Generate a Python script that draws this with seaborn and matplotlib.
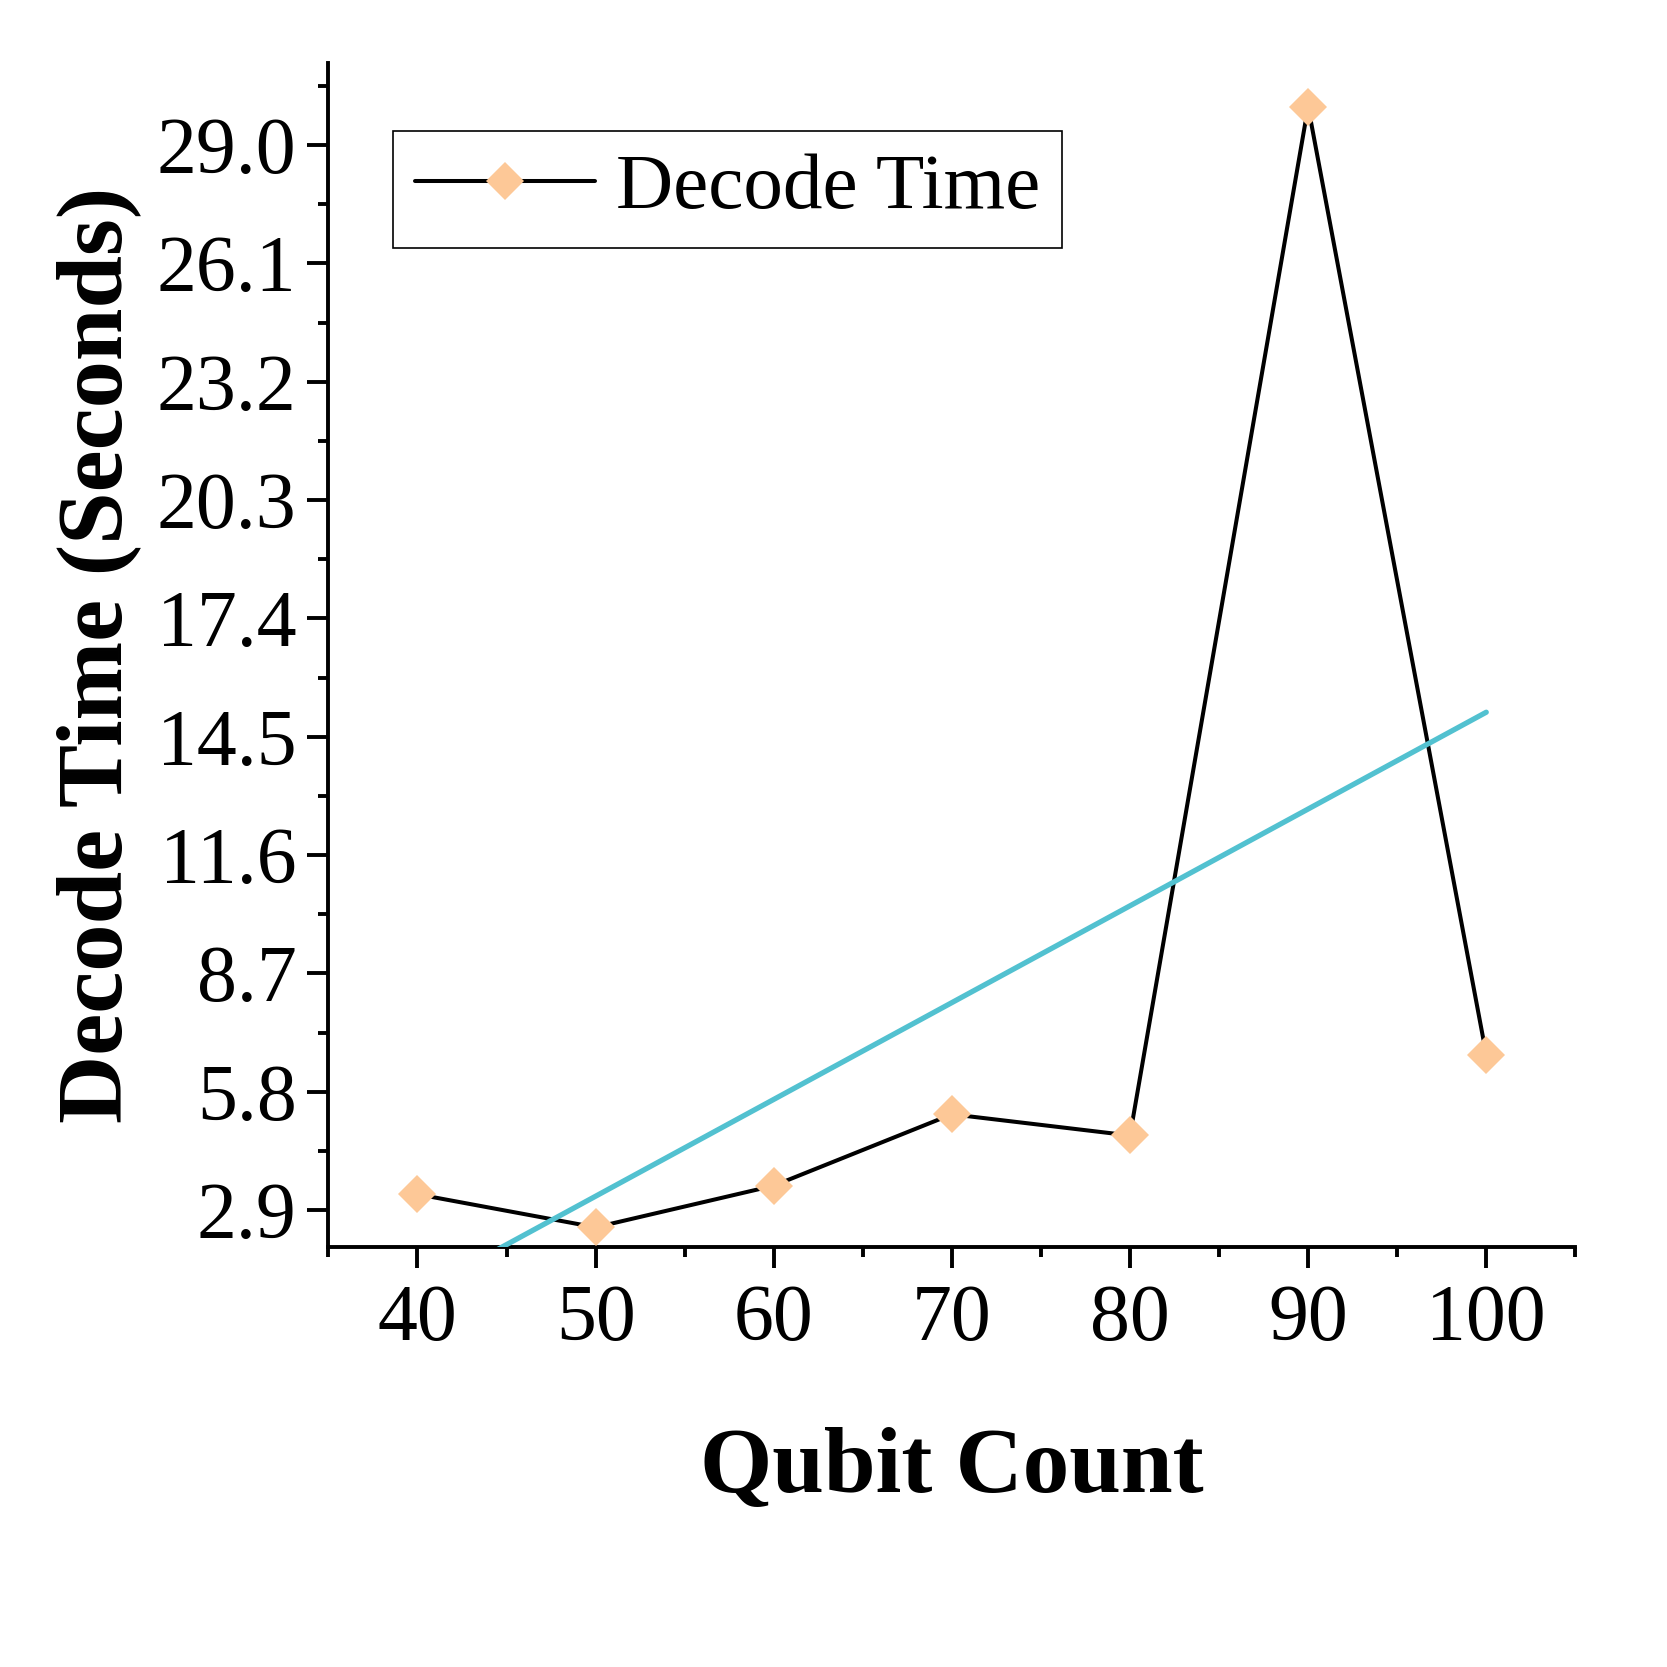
import numpy as np
import pandas as pd
import seaborn as sns
import matplotlib.pyplot as plt
from matplotlib.ticker import MultipleLocator

# Data
qubits = [40, 50, 60, 70, 80, 90, 100]
decode_time = [3.29, 2.48, 3.50, 5.25, 4.73, 29.94, 6.71]
y_ticks = [2.9, 5.8, 8.7, 11.6, 14.5, 17.4, 20.3, 23.2, 26.1, 29.0]
x_ticks = [40, 50, 60, 70, 80, 90, 100]

df = pd.DataFrame({"Qubit Count": qubits, "Decode Time": decode_time})

sns.set_theme(style="ticks")
plt.rcParams["font.family"] = ["Liberation Serif", "DejaVu Serif"]
plt.rcParams["text.color"] = "black"
plt.rcParams["axes.labelcolor"] = "black"

fig = plt.figure(figsize=(16.67, 16.67), dpi=100)
ax = fig.add_axes([0.197, 0.252, 0.748, 0.710])

# Data line with diamond markers
sns.lineplot(data=df, x="Qubit Count", y="Decode Time", ax=ax,
             color="black", linewidth=2.9, marker="D", markersize=19,
             markerfacecolor="#FDC897", markeredgewidth=0,
             label="Decode Time", zorder=3)

# Linear fit
sns.regplot(data=df, x="Qubit Count", y="Decode Time", ax=ax,
            scatter=False, ci=None, truncate=True, color="#52C1D0",
            line_kws={"linewidth": 3.8, "zorder": 4})

ax.set_xlim(35, 105)
ax.set_ylim(2.0, 31.0)
ax.set_xticks(x_ticks)
ax.set_yticks(y_ticks)
ax.set_yticklabels([f"{v:.1f}" for v in y_ticks])
ax.xaxis.set_minor_locator(MultipleLocator(5))
ax.yaxis.set_minor_locator(MultipleLocator(1.45, offset=0))

sns.despine(ax=ax)
for side in ["left", "bottom"]:
    ax.spines[side].set_linewidth(2.8)
    ax.spines[side].set_color("black")

ax.tick_params(axis="both", which="major", direction="out", length=15,
               width=2.8, colors="black", labelsize=57.5)
ax.tick_params(axis="both", which="minor", direction="out", length=7.5,
               width=2.8, colors="black")
ax.tick_params(axis="x", which="major", pad=12)
ax.tick_params(axis="y", which="major", pad=8)

ax.set_xlabel("Qubit Count", fontsize=67, fontweight="bold", labelpad=50)
ax.set_ylabel("Decode Time (Seconds)", fontsize=68, fontweight="bold",
              labelpad=11)

leg = ax.legend(loc="upper left", bbox_to_anchor=(0.052, 0.943),
                borderaxespad=0, fontsize=57, handlelength=2.27,
                handletextpad=0.26, borderpad=0.28, fancybox=False,
                framealpha=1, edgecolor="black")
leg.get_frame().set_linewidth(1.2)

fig.savefig("out.png", dpi=100, facecolor="white")
